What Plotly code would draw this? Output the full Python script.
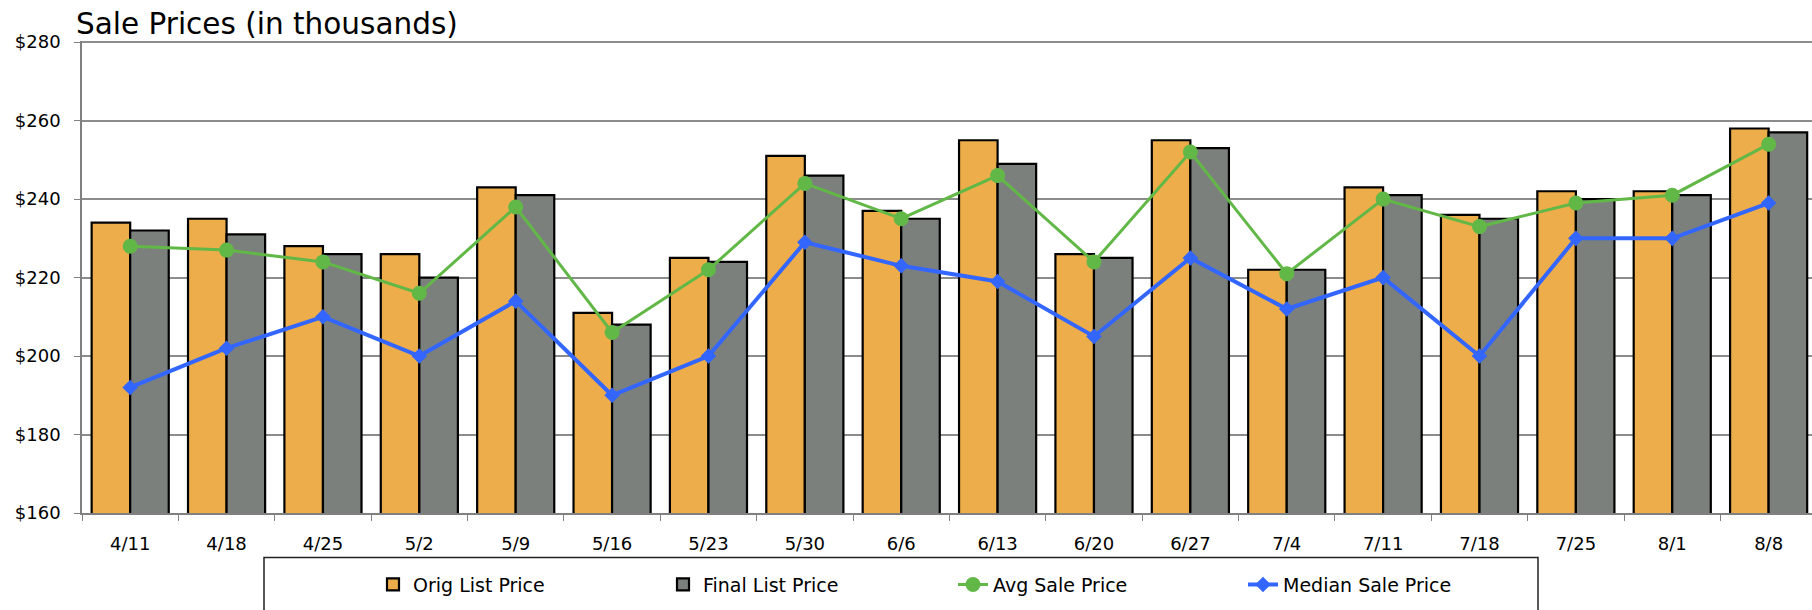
import plotly.graph_objects as go

weeks = ["4/11", "4/18", "4/25", "5/2", "5/9", "5/16", "5/23", "5/30", "6/6",
         "6/13", "6/20", "6/27", "7/4", "7/11", "7/18", "7/25", "8/1", "8/8"]
orig_list = [234, 235, 228, 226, 243, 211, 225, 251, 237, 255, 226, 255, 222, 243, 236, 242, 242, 258]
final_list = [232, 231, 226, 220, 241, 208, 224, 246, 235, 249, 225, 253, 222, 241, 235, 240, 241, 257]
avg_sale = [228, 227, 224, 216, 238, 206, 222, 244, 235, 246, 224, 252, 221, 240, 233, 239, 241, 254]
median_sale = [192, 202, 210, 200, 214, 190, 200, 229, 223, 219, 205, 225, 212, 220, 200, 230, 230, 239]
y_ticks = [160, 180, 200, 220, 240, 260, 280]
y_tick_text = ["$" + str(v) for v in y_ticks]

FONT = "DejaVu Sans"
W, H = 1812, 610
L, R, T, B = 82, 0, 40.5, 96.7
pw, ph = W - L - R, H - T - B


def px_x(x):
    return (x - L) / pw


def px_y(y):
    return (H - B - y) / ph


fig = go.Figure()
fig.add_trace(go.Bar(x=weeks, y=orig_list, name="Orig List Price",
                     marker=dict(color="#EDAD4A", line=dict(color="#000000", width=2.2))))
fig.add_trace(go.Bar(x=weeks, y=final_list, name="Final List Price",
                     marker=dict(color="#7C807D", line=dict(color="#000000", width=2.2))))
fig.add_trace(go.Scatter(x=weeks, y=avg_sale, name="Avg Sale Price", mode="lines+markers",
                         line=dict(color="#62B847", width=3),
                         marker=dict(symbol="circle", size=15, color="#62B847")))
fig.add_trace(go.Scatter(x=weeks, y=median_sale, name="Median Sale Price", mode="lines+markers",
                         line=dict(color="#3366FF", width=4),
                         marker=dict(symbol="diamond", size=12, color="#3366FF")))

fig.update_layout(
    width=W, height=H,
    margin=dict(l=L, r=R, t=T, b=B, autoexpand=False),
    paper_bgcolor="white", plot_bgcolor="white",
    font=dict(family=FONT, size=18, color="#000000"),
    barmode="group", bargap=0.2, bargroupgap=0,
    title=dict(text="Sale Prices (in thousands)", font=dict(family=FONT, size=29.5, color="#000000"),
               x=76 / W, xanchor="left", xref="container",
               y=1 - 24 / H, yanchor="middle", yref="container"),
    xaxis=dict(type="category", range=[-0.5, 17.45], tickson="boundaries",
               ticks="outside", ticklen=6, tickcolor="#808080", tickwidth=1,
               showline=True, linecolor="#808080", linewidth=1.5,
               showgrid=False, ticklabelstandoff=14,
               tickfont=dict(family=FONT, size=18, color="#000000")),
    yaxis=dict(range=[160, 280.3], tickvals=y_ticks, ticktext=y_tick_text,
               ticks="outside", ticklen=6, tickcolor="#808080", tickwidth=1,
               showline=True, linecolor="#808080", linewidth=1.5,
               showgrid=True, gridcolor="#8c8c8c", gridwidth=1.5,
               ticklabelstandoff=10, zeroline=False,
               tickfont=dict(family=FONT, size=18, color="#000000")),
    legend=dict(orientation="h", x=px_x(373), xanchor="left", y=px_y(585), yanchor="middle",
                entrywidth=245, entrywidthmode="pixels", traceorder="normal",
                bgcolor="rgba(0,0,0,0)", borderwidth=0,
                font=dict(family=FONT, size=19, color="#000000")),
    shapes=[dict(type="rect", xref="paper", yref="paper",
                 x0=px_x(264), x1=px_x(1538), y0=px_y(558), y1=px_y(640),
                 line=dict(color="#222222", width=1.5), fillcolor="rgba(0,0,0,0)", layer="below")],
)

fig.write_html("out.html", config={"displayModeBar": False},
               post_script="document.body.style.margin='0';")
